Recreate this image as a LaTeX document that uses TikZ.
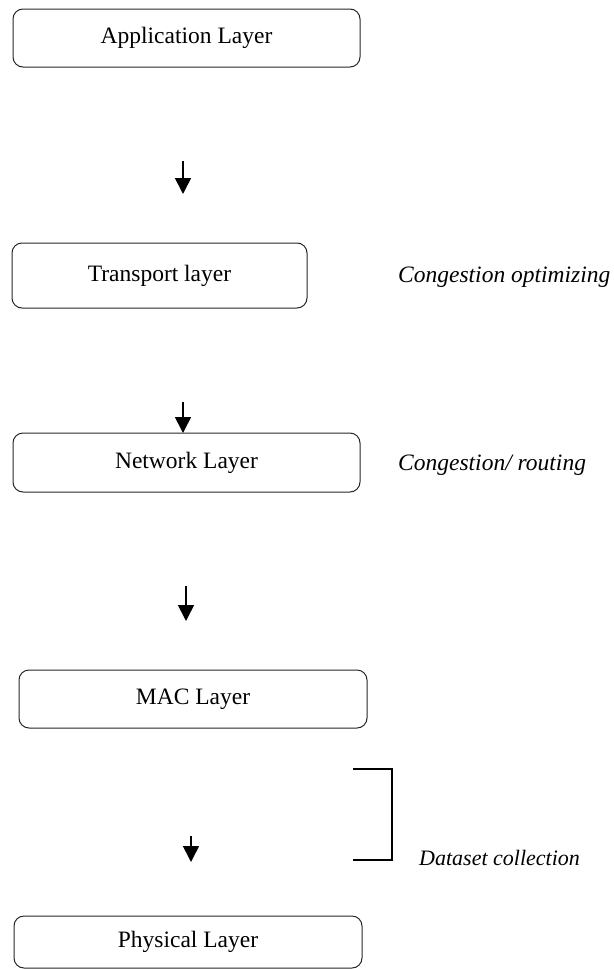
\documentclass[tikz,border=0pt]{standalone}
\usepackage{fontspec}
\setmainfont{Liberation Serif}
\usetikzlibrary{arrows.meta}
\begin{document}
\begin{tikzpicture}[x=1pt,y=-1pt,
  layerbox/.style={draw=black!85,line width=1pt,rounded corners=10pt,
    minimum width=#1,inner sep=0pt,font=\fontsize{23.5}{28}\selectfont},
  note/.style={anchor=west,inner sep=0pt,font=\fontsize{23.5}{28}\selectfont\itshape},
  smallnote/.style={anchor=west,inner sep=0pt,font=\fontsize{22}{26}\selectfont\itshape},
  flow/.style={line width=1.6pt,-{Triangle[width=16pt,length=16pt]}}]
\useasboundingbox (0,0) rectangle (613,969);

% protocol stack
\node[layerbox=347pt,minimum height=58pt] (app) at (186.5,38) {Application Layer};
\node[layerbox=295pt,minimum height=65pt] (trans) at (159.5,275.5) {Transport layer};
\node[layerbox=347pt,minimum height=59pt] (net) at (186.5,462.5) {Network Layer};
\node[layerbox=348pt,minimum height=58pt] (mac) at (193,699) {MAC Layer};
\node[layerbox=348pt,minimum height=52pt] (phy) at (188,942) {Physical Layer};

% side annotations
\node[note] (opt) at (398,277) {Congestion optimizing};
\node[note] (rout) at (398,465) {Congestion/ routing};
\node[smallnote] (data) at (419,858) {Dataset collection};

% downward arrows between layers
\coordinate (a1s) at (183,161);
\coordinate (a1e) at (183,194);
\coordinate (a2s) at (183,402);
\coordinate (a2e) at (183,433);
\coordinate (a3s) at (186,586);
\coordinate (a3e) at (186,621);
\coordinate (a4s) at (191,836);
\coordinate (a4e) at (191,862);
\draw[flow] (a1s) -- (a1e);
\draw[flow] (a2s) -- (a2e);
\draw[flow] (a3s) -- (a3e);
\draw[flow] (a4s) -- (a4e);

% bracket beside the lower layers
\coordinate (b1) at (353,769);
\coordinate (b2) at (392,769);
\coordinate (b3) at (392,860);
\coordinate (b4) at (353,860);
\draw[line width=1.6pt] (b1) -- (b2) -- (b3) -- (b4);
\end{tikzpicture}
\end{document}
